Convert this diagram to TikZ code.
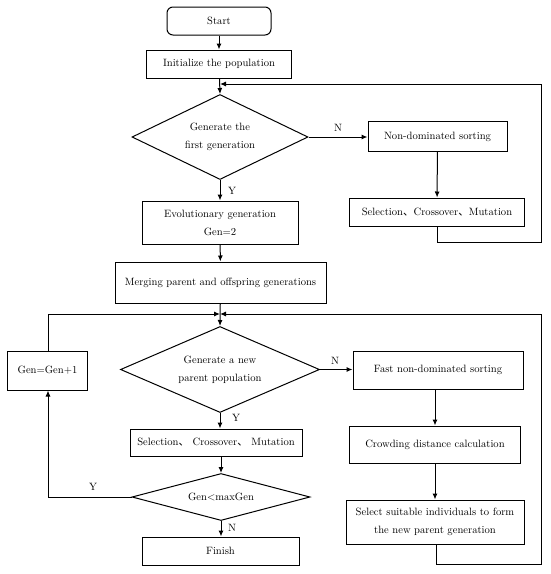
\documentclass[tikz,border=0pt]{standalone}
\usepackage{fontspec}
\newfontfamily\cjk{Noto Sans CJK SC}
\usetikzlibrary{arrows.meta,shapes.geometric}
\newcommand{\fsz}{\fontsize{10.6}{18}\selectfont}
\newcommand{\dun}{{\cjk 、}}
\begin{document}
\begin{tikzpicture}[x=1pt,y=-1pt, line width=1pt,
  box/.style={draw, rectangle, inner sep=0pt, align=center, font=\fsz},
  dec/.style={draw, diamond, inner sep=0pt, align=center, font=\fsz},
  arr/.style={-{Latex[length=6pt,width=5pt]}},
  lab/.style={font=\fsz, inner sep=0pt}]
\useasboundingbox (0,0) rectangle (550,574);

% left column
\node[box, rounded corners=6pt, minimum width=104pt, minimum height=28pt] (start) at (219,21) {Start};
\node[box, minimum width=145pt, minimum height=28pt] (init) at (219,64) {Initialize the population};
\node[dec, aspect=2.07, minimum width=176pt, minimum height=85pt] (d1) at (220,137) {Generate the\\first generation};
\node[box, minimum width=156pt, minimum height=43pt] (evo) at (220,222.5) {Evolutionary generation\\Gen=2};
\node[box, minimum width=211pt, minimum height=41pt] (merge) at (220.5,282.5) {Merging parent and offspring generations};
\node[dec, aspect=2.3, minimum width=199pt, minimum height=86pt] (d2) at (220,369.5) {Generate a new\\parent population};
\node[box, minimum width=172pt, minimum height=27pt] (sel2) at (216,442.5) {Selection\dun\ Crossover\dun\ Mutation};
\node[dec, aspect=3.8, minimum width=178pt, minimum height=47pt] (d3) at (221,497) {Gen\textless maxGen};
\node[box, minimum width=157pt, minimum height=28pt] (finish) at (220.5,551) {Finish};
\node[box, minimum width=80pt, minimum height=39pt] (gen1) at (47.5,370.5) {Gen=Gen+1};

% right column
\node[box, minimum width=139pt, minimum height=30pt] (nds) at (437.5,136.5) {Non-dominated sorting};
\node[box, minimum width=175pt, minimum height=28pt] (sel1) at (437,212) {Selection\dun Crossover\dun Mutation};
\node[box, minimum width=170pt, minimum height=38pt] (fast) at (438,370) {Fast non-dominated sorting};
\node[box, minimum width=171.5pt, minimum height=37pt] (crowd) at (435,444.5) {Crowding distance calculation};
\node[box, minimum width=178pt, minimum height=44pt] (select) at (435,522) {Select suitable individuals to form\\the new parent generation};

% junction coordinates
\coordinate (j1) at (220,84);
\coordinate (j2) at (220,314);
\coordinate (r1a) at (437,242);
\coordinate (r1b) at (541,242);
\coordinate (r1c) at (541,84);
\coordinate (r2a) at (436,564);
\coordinate (r2b) at (541,564);
\coordinate (r2c) at (541,314);
\coordinate (l1) at (48,497);
\coordinate (l2) at (48,314);

% labels
\node[lab] (n1) at (338,128) {N};
\node[lab] (y1) at (232,191) {Y};
\node[lab] (n2) at (335,361) {N};
\node[lab] (y2) at (236,418) {Y};
\node[lab] (y3) at (93,487) {Y};
\node[lab] (n3) at (232,528) {N};

% connectors
\draw[arr] (start) -- (init);
\draw[arr] (init) -- (d1.north);
\draw[arr] (d1.east) -- (d1.east -| nds.west);
\draw[arr] (nds) -- (sel1);
\draw[arr] (sel1.south -| r1a) -- (r1a) -- (r1b) -- (r1c) -- (j1);
\draw[arr] (d1.south) -- (evo);
\draw[arr] (evo) -- (merge);
\draw[arr] (merge) -- (d2.north);
\draw[arr] (d2.east) -- (d2.east -| fast.west);
\draw[arr] (fast.south -| crowd.north) -- (crowd.north);
\draw[arr] (crowd) -- (select);
\draw[arr] (select.south -| r2a) -- (r2a) -- (r2b) -- (r2c) -- (j2);
\draw[arr] (d2.south) -- (d2.south |- sel2.north);
\draw[arr] (d3.north |- sel2.south) -- (d3.north);
\draw[arr] (d3.west) -- (l1) -- (l1 |- gen1.south);
\draw[arr] (gen1.north -| l2) -- (l2) -- (j2);
\draw[arr] (d3.south) -- (d3.south |- finish.north);
\end{tikzpicture}
\end{document}
